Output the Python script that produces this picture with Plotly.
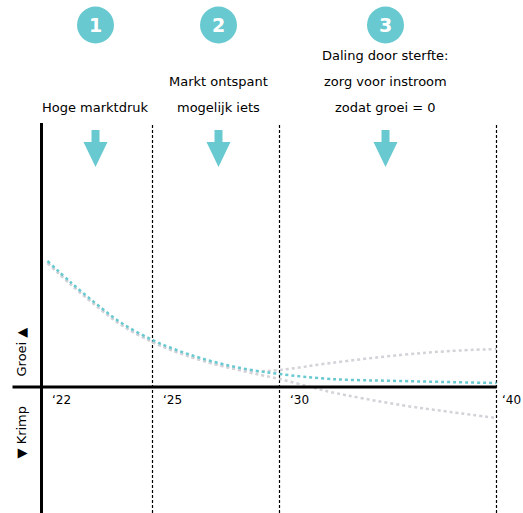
import plotly.graph_objects as go

# ---- data (horizontal position units along the timeline, vertical = growth index) ----
tick_labels = ["\u201822", "\u201825", "\u201830", "\u201840"]
tick_pos = [0, 111, 238, 455]

teal_x = [6, 30, 55, 80, 111, 135, 159, 185, 210, 238, 289, 359, 455]
teal_y = [126, 104, 83, 64, 47, 37, 29, 22, 17, 13, 8, 6, 4]

grayup_x = [6, 30, 55, 80, 111, 135, 159, 185, 210, 238, 289, 359, 409, 455]
grayup_y = [124, 102, 81, 62, 45, 35, 27, 20, 16, 17, 24, 32, 36, 38]

graylo_x = [6, 30, 55, 80, 111, 135, 159, 185, 210, 238, 269, 289, 359, 409, 455]
graylo_y = [124, 102, 81, 62, 45, 35, 27, 20, 14, 8, 0, -5, -18, -25, -31]

phase_nums = ["1", "2", "3"]
phase_x = [54, 177, 344]
phase_texts = [
    ["Hoge marktdruk"],
    ["Markt ontspant", "mogelijk iets"],
    ["Daling door sterfte:", "zorg voor instroom", "zodat groei = 0"],
]

TEAL = "#68C9D0"
GRAY = "#D2D2D8"
FONT = "DejaVu Sans"

fig = go.Figure()

for xs, ys in [(grayup_x, grayup_y), (graylo_x, graylo_y)]:
    fig.add_trace(go.Scatter(x=xs, y=ys, mode="lines", line=dict(color=GRAY, width=2.5, dash="3px,3px", shape="spline"),
                             hoverinfo="skip", showlegend=False))
fig.add_trace(go.Scatter(x=teal_x, y=teal_y, mode="lines", line=dict(color=TEAL, width=2.5, dash="3px,3px", shape="spline"),
                         hoverinfo="skip", showlegend=False))

shapes = []
# dashed phase boundaries
for p in tick_pos[1:]:
    shapes.append(dict(type="line", x0=p, x1=p, y0=-126, y1=264, xref="x", yref="y",
                       line=dict(color="black", width=1.2, dash="3px,2px"), layer="below"))
# axes
shapes.append(dict(type="line", x0=0, x1=0, y0=-126, y1=264, line=dict(color="black", width=3)))
shapes.append(dict(type="line", x0=-29, x1=455, y0=0, y1=0, line=dict(color="black", width=3)))

annotations = []
for i, (lab, p) in enumerate(zip(tick_labels, tick_pos)):
    last = i == len(tick_labels) - 1
    annotations.append(dict(x=(481 if last else p + 8), y=-13, text=lab, showarrow=False,
                            xanchor=("right" if last else "left"), yanchor="middle",
                            font=dict(family=FONT, size=12, color="black")))

for num, px, lines in zip(phase_nums, phase_x, phase_texts):
    # circle
    shapes.append(dict(type="circle", x0=px - 18.5, x1=px + 18.5, y0=362 - 18.5, y1=362 + 18.5,
                       fillcolor=TEAL, line=dict(width=0)))
    annotations.append(dict(x=px, y=362, text="<b>%s</b>" % num, showarrow=False,
                            font=dict(family=FONT, size=19, color="white"), xanchor="center", yanchor="middle"))
    # arrow
    path = ("M {a},{t} L {b},{t} L {b},{m} L {c},{m} L {px},{tip} L {d},{m} L {a2},{m} Z"
            .format(a=px - 4, b=px + 4, t=257, m=245, c=px + 12, px=px, tip=220, d=px - 12, a2=px - 4))
    shapes.append(dict(type="path", path=path, fillcolor=TEAL, line=dict(width=0)))
    # texts
    n = len(lines)
    for i, ln in enumerate(lines):
        yv = 280 + (n - 1 - i) * 26
        annotations.append(dict(x=px, y=yv, text=ln, showarrow=False, xanchor="center", yanchor="middle",
                                font=dict(family=FONT, size=13, color="black")))

annotations.append(dict(x=-21, y=35, text="Groei \u25B2", textangle=-90, showarrow=False,
                        font=dict(family=FONT, size=13, color="black"), xanchor="center", yanchor="middle"))
annotations.append(dict(x=-21, y=-45, text="\u25BC Krimp", textangle=-90, showarrow=False,
                        font=dict(family=FONT, size=13, color="black"), xanchor="center", yanchor="middle"))

fig.update_layout(
    width=523, height=513, margin=dict(l=0, r=0, t=0, b=0),
    paper_bgcolor="white", plot_bgcolor="white",
    xaxis=dict(range=[-41.5, 481.5], visible=False, fixedrange=True),
    yaxis=dict(range=[-126, 387], visible=False, fixedrange=True),
    shapes=shapes, annotations=annotations, showlegend=False,
)

fig.write_html("out.html")
